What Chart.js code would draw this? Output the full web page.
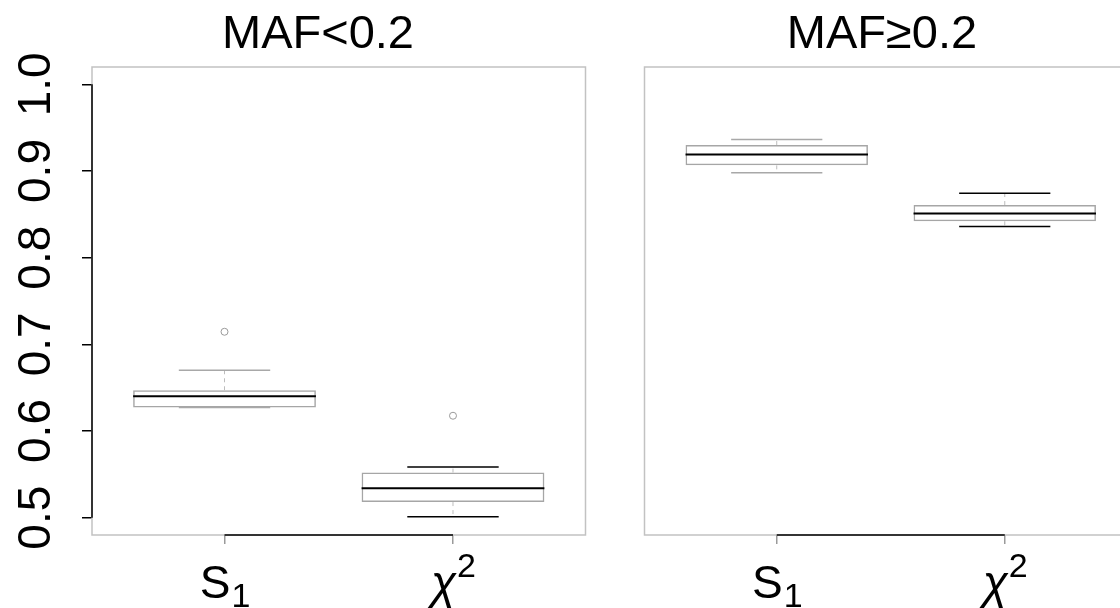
<!DOCTYPE html>
<html><head><meta charset="utf-8">
<script src="https://cdn.jsdelivr.net/npm/chart.js@4.4.1/dist/chart.umd.min.js"></script>
<style>
html,body{margin:0;padding:0;background:#fff;overflow:hidden;width:1120px;height:608px;}
#c1{position:absolute;left:0;top:0;}
#c2{position:absolute;left:615px;top:0;}
</style></head><body>
<canvas id="c1" width="615" height="608"></canvas>
<canvas id="c2" width="560" height="608"></canvas>
<script>
// ---------- data ----------
const panelTitles = ['MAF<0.2', 'MAF\u22650.2'];
const categoryPositions = [1, 2];
const categoryBase = ['S', '\u03C7'];
const categoryScript = ['1', '2'];
const categoryScriptKind = ['sub', 'sup'];
const yTickValues = [0.5, 0.6, 0.7, 0.8, 0.9, 1.0];

const lowWhiskerLow  = [0.627, 0.501];
const lowQ1          = [0.627, 0.518];
const lowMedian      = [0.640, 0.534];
const lowQ3          = [0.647, 0.552];
const lowWhiskerHigh = [0.670, 0.5585];
const lowOutliers    = [0.7145, 0.6176];

const highWhiskerLow  = [0.898, 0.836];
const highQ1          = [0.9065, 0.842];
const highMedian      = [0.919, 0.851];
const highQ3          = [0.930, 0.8607];
const highWhiskerHigh = [0.9364, 0.8742];
const highOutliers    = [null, null];

// ---------- style ----------
const FONT = "'Liberation Sans', Arial, Helvetica, sans-serif";
const capColors = ['#a8a8a8', '#000000'];
const BOX_W = 0.8, CAP_W = 0.4;

function halfPx(chart, w) {
  const s = chart.scales.x;
  return Math.abs(s.getPixelForValue(1 + w / 2) - s.getPixelForValue(1));
}

function makeDatasets(wl, q1, med, q3, wh, out) {
  return [
    {
      type: 'bar', order: 5,
      data: categoryPositions.map((x, i) => ({x, y: [q1[i], q3[i]]})),
      backgroundColor: 'rgba(255,255,255,0)', borderColor: '#a6a6a6', borderWidth: 1.5,
      borderSkipped: false, barPercentage: BOX_W, categoryPercentage: 1, grouped: false
    },
    {
      type: 'line', order: 4,
      data: categoryPositions.flatMap((x, i) => [
        {x, y: q3[i]}, {x, y: wh[i]}, {x, y: null},
        {x, y: q1[i]}, {x, y: wl[i]}, {x, y: null}
      ]),
      borderColor: '#bdbdbd', borderWidth: 1, borderDash: [4, 4],
      pointRadius: 0, spanGaps: false, fill: false
    },
    {
      type: 'scatter', order: 3,
      data: categoryPositions.flatMap((x, i) => [{x, y: wl[i]}, {x, y: wh[i]}]),
      pointStyle: 'line',
      pointRadius: c => halfPx(c.chart, CAP_W),
      pointBorderColor: c => capColors[Math.floor(c.dataIndex / 2)],
      pointBorderWidth: 1.5
    },
    {
      type: 'scatter', order: 2,
      data: categoryPositions.map((x, i) => ({x, y: med[i]})),
      pointStyle: 'line',
      pointRadius: c => halfPx(c.chart, BOX_W),
      pointBorderColor: '#000', pointBorderWidth: 2
    },
    {
      type: 'scatter', order: 1,
      data: categoryPositions.map((x, i) => ({x, y: out[i]})).filter(p => p.y !== null),
      pointStyle: 'circle', pointRadius: 3.5,
      pointBorderColor: '#9a9a9a', pointBackgroundColor: 'rgba(0,0,0,0)', pointBorderWidth: 1
    }
  ];
}

const rAxes = {
  id: 'rAxes',
  beforeDatasetsDraw(chart) {
    const {ctx, chartArea: a} = chart;
    ctx.save();
    ctx.strokeStyle = '#c2c2c2'; ctx.lineWidth = 1.5;
    ctx.strokeRect(a.left, a.top, a.right - a.left, a.bottom - a.top);
    ctx.restore();
  },
  afterDraw(chart, args, opts) {
    const {ctx, chartArea: a} = chart;
    const x = chart.scales.x, y = chart.scales.y;
    ctx.save();
    // panel title
    ctx.fillStyle = '#000';
    ctx.textBaseline = 'alphabetic';
    ctx.textAlign = 'center';
    ctx.font = `47px ${FONT}`;
    ctx.fillText(opts.title, opts.titleX, 48);
    // axis lines (R style: only between extreme ticks)
    ctx.strokeStyle = '#000'; ctx.lineWidth = 1.5;
    ctx.beginPath();
    ctx.moveTo(x.getPixelForValue(categoryPositions[0]), a.bottom);
    ctx.lineTo(x.getPixelForValue(categoryPositions[categoryPositions.length - 1]), a.bottom);
    if (opts.yAxis) {
      ctx.moveTo(a.left, y.getPixelForValue(yTickValues[0]));
      ctx.lineTo(a.left, y.getPixelForValue(yTickValues[yTickValues.length - 1]));
    }
    ctx.stroke();
    // category labels with sub/superscripts
    ctx.textAlign = 'left';
    const mainSize = 46, scriptSize = 34;
    categoryPositions.forEach((v, i) => {
      const cx = x.getPixelForValue(v);
      const mainFont = (categoryBase[i] === '\u03C7' ? 'italic ' : '') + `${mainSize}px ${FONT}`;
      ctx.font = mainFont;
      const w1 = ctx.measureText(categoryBase[i]).width;
      ctx.font = `${scriptSize}px ${FONT}`;
      const w2 = ctx.measureText(categoryScript[i]).width;
      const left = cx - (w1 + w2) / 2;
      const base = a.bottom + 63;
      ctx.font = mainFont;
      ctx.fillText(categoryBase[i], left, base);
      ctx.font = `${scriptSize}px ${FONT}`;
      const dy = categoryScriptKind[i] === 'sub' ? 9 : -21;
      ctx.fillText(categoryScript[i], left + w1 + 1, base + dy);
    });
    ctx.restore();
  }
};

function makeChart(id, title, titleX, datasets, showY, pad, yWidth) {
  return new Chart(document.getElementById(id), {
    type: 'bar',
    data: {datasets},
    plugins: [rAxes],
    options: {
      responsive: false, animation: false, devicePixelRatio: 1,
      layout: {padding: pad},
      plugins: {
        legend: {display: false}, tooltip: {enabled: false}, title: {display: false},
        rAxes: {yAxis: showY, title, titleX}
      },
      scales: {
        x: {
          type: 'linear', min: 0.42, max: 2.58, offset: false,
          afterBuildTicks: s => { s.ticks = categoryPositions.map(v => ({value: v})); },
          ticks: {display: false},
          grid: {display: true, offset: false, drawOnChartArea: false, drawTicks: true, tickLength: 9,
                 color: '#9a9a9a', lineWidth: 1.5},
          border: {display: false},
          afterFit: s => { s.height = 73; }
        },
        y: {
          type: 'linear', min: 0.48, max: 1.02, display: showY,
          afterBuildTicks: s => { s.ticks = yTickValues.map(v => ({value: v})); },
          ticks: {display: showY, autoSkip: false, minRotation: 90, maxRotation: 90,
                  crossAlign: 'center', padding: 13, color: '#000',
                  font: {family: FONT, size: 46},
                  callback: v => Number(v).toFixed(1)},
          grid: {display: showY, offset: false, drawOnChartArea: false, tickLength: 10, color: '#000', lineWidth: 1.5},
          border: {display: false},
          afterFit: s => { s.width = yWidth; }
        }
      }
    }
  });
}

makeChart('c1', panelTitles[0], 318,
  makeDatasets(lowWhiskerLow, lowQ1, lowMedian, lowQ3, lowWhiskerHigh, lowOutliers),
  true, {left: 0, right: 29.5, top: 67, bottom: 0}, 92);
makeChart('c2', panelTitles[1], 882 - 615,
  makeDatasets(highWhiskerLow, highQ1, highMedian, highQ3, highWhiskerHigh, highOutliers),
  false, {left: 29.5, right: 38, top: 67, bottom: 0}, 0);
</script>
</body></html>
